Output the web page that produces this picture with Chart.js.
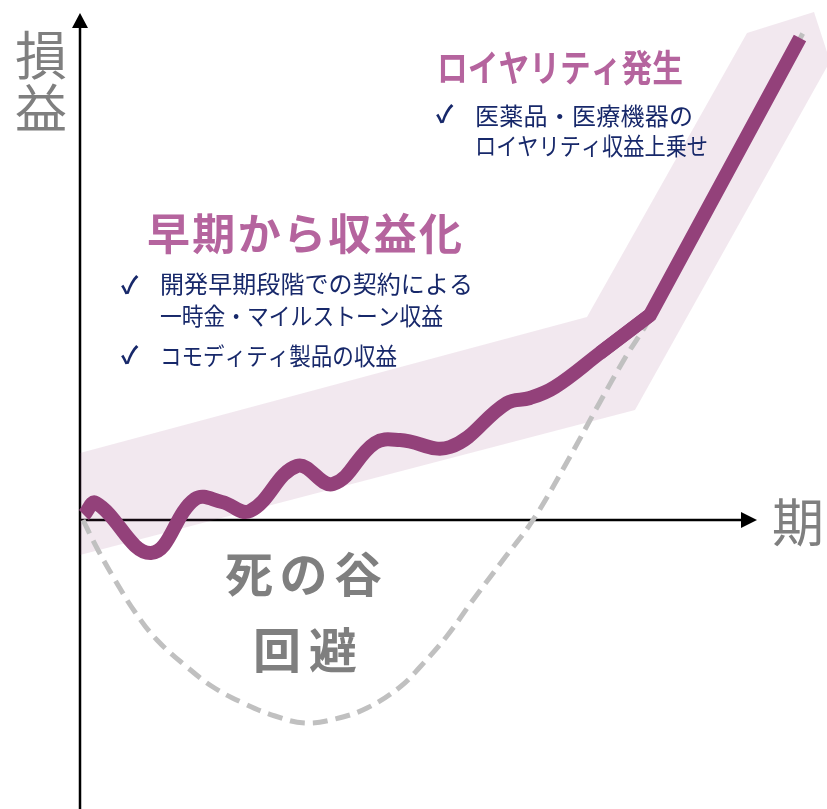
<!DOCTYPE html>
<html lang="ja">
<head>
<meta charset="utf-8">
<script src="https://cdn.jsdelivr.net/npm/chart.js@4.4.1/dist/chart.umd.min.js"></script>
<style>
  html, body { margin: 0; padding: 0; background: #ffffff; }
  canvas { display: block; }
</style>
</head>
<body>
<canvas id="c" width="827" height="809"></canvas>
<script>
// ---- Data (x = 期間, y = 損益; axis origin at 0,0) ----
// Purple profit curve (wavy early-revenue part)
const waveX = [0.4, 1.6, 7.1, 11.5, 14.2, 17.0, 21.7, 25.3, 29.5, 32.0, 37.0, 42.7, 45.0, 47.5, 52.0, 57.0];
const waveY = [0.5, 1.7, -3.3, 2.1, 1.8, 0.9, 5.4, 3.6, 7.7, 8.0, 7.3, 11.7, 12.2, 13.3, 16.7, 20.5];
// Purple profit curve (royalty rise part)
const riseX = [52.0, 57.0, 72.0];
const riseY = [16.7, 20.5, 48.2];
// Grey dashed "death valley" curve
const valleyX = [0.3, 1.8, 3.5, 5.5, 7.7, 10.7, 13.3, 16.3, 19.5, 22.5, 25.5, 28.7, 32.0, 34.0, 36.7, 39.3, 42.3, 45.3, 48.7, 52.0, 54.5, 57.0, 72.3];
const valleyY = [0, -3.0, -6.0, -9.2, -12.0, -14.7, -16.7, -18.3, -19.6, -20.3, -19.9, -18.8, -16.7, -14.7, -11.6, -8.0, -4.0, 0, 5.8, 11.8, 16.2, 20.2, 48.7];
// Light band around the curve
const bandTopX = [0, 50.7, 66.7, 73.4, 74.8];
const bandTopY = [6.7, 20.3, 48.7, 50.8, 46.5];
const bandBottomX = [0, 55.5, 74.8];
const bandBottomY = [-3.5, 11.0, 45.5];

// Texts
const axisYLabel = ['損', '益'];
const axisXLabel = '期';
const royaltyTitle = 'ロイヤリティ発生';
const royaltyItems = ['医薬品・医療機器の', 'ロイヤリティ収益上乗せ'];
const earlyTitle = '早期から収益化';
const earlyItems = ['開発早期段階での契約による', '一時金・マイルストーン収益', 'コモディティ製品の収益'];
const valleyText = ['死の谷', '回避'];

const pts = (xs, ys) => xs.map((x, i) => ({ x, y: ys[i] }));

const PURPLE = '#93417a';
const PINK = '#b5649e';
const NAVY = '#17286a';
const GREY_TXT = '#7f7f7f';
const FONT = '"Noto Sans CJK JP", "Noto Sans", sans-serif';

function fitText(ctx, str, x, y, size, weight, color, width) {
  ctx.save();
  ctx.font = `${weight} ${size}px ${FONT}`;
  ctx.fillStyle = color;
  ctx.textBaseline = 'middle';
  ctx.textAlign = 'left';
  const w = ctx.measureText(str).width;
  if (w > width) {
    ctx.translate(x, y);
    ctx.scale(width / w, 1);
    ctx.fillText(str, 0, 0);
  } else {
    const n = [...str].length;
    if (n > 1) ctx.letterSpacing = ((width - w) / (n - 1)) + 'px';
    ctx.fillText(str, x, y);
  }
  ctx.restore();
}
function plainText(ctx, str, x, y, size, weight, color, align, font) {
  ctx.save();
  ctx.font = `${weight} ${size}px ${font || FONT}`;
  ctx.fillStyle = color;
  ctx.textBaseline = 'middle';
  ctx.textAlign = align || 'left';
  ctx.fillText(str, x, y);
  ctx.restore();
}
function check(ctx, x, y) {
  plainText(ctx, '✓', x, y, 24, 700, NAVY, 'left', '"Noto Sans CJK JP", "DejaVu Sans", sans-serif');
}

const axesPlugin = {
  id: 'axesArrows',
  beforeDatasetsDraw(chart) {
    const ctx = chart.ctx;
    const xs = chart.scales.x, ys = chart.scales.y;
    const ox = xs.getPixelForValue(0), oy = ys.getPixelForValue(0);
    const area = chart.chartArea;
    const yTip = 13, xTip = 757;
    ctx.save();
    ctx.strokeStyle = '#000';
    ctx.fillStyle = '#000';
    ctx.lineWidth = 2.5;
    ctx.beginPath();
    ctx.moveTo(ox, area.bottom);
    ctx.lineTo(ox, yTip + 14);
    ctx.moveTo(ox, oy);
    ctx.lineTo(xTip - 15, oy);
    ctx.stroke();
    ctx.beginPath();
    ctx.moveTo(ox, yTip);
    ctx.lineTo(ox - 8, yTip + 15);
    ctx.lineTo(ox + 8, yTip + 15);
    ctx.closePath();
    ctx.fill();
    ctx.beginPath();
    ctx.moveTo(xTip, oy);
    ctx.lineTo(xTip - 16, oy - 8);
    ctx.lineTo(xTip - 16, oy + 8);
    ctx.closePath();
    ctx.fill();
    ctx.restore();
  },
  afterDatasetsDraw(chart) {
    const ctx = chart.ctx;
    // axis labels
    plainText(ctx, axisYLabel[0], 41, 55, 52, 400, GREY_TXT, 'center');
    plainText(ctx, axisYLabel[1], 41, 108, 52, 400, GREY_TXT, 'center');
    plainText(ctx, axisXLabel, 772, 522, 52, 400, GREY_TXT, 'left');
    // royalty block
    fitText(ctx, royaltyTitle, 437, 68, 37, 700, PINK, 246);
    check(ctx, 436, 114);
    fitText(ctx, royaltyItems[0], 475, 116, 24, 400, NAVY, 218);
    fitText(ctx, royaltyItems[1], 475, 146, 24, 400, NAVY, 233);
    // early revenue block
    fitText(ctx, earlyTitle, 147, 234, 43, 700, PINK, 315);
    check(ctx, 121, 285);
    fitText(ctx, earlyItems[0], 160, 284, 24, 400, NAVY, 313);
    fitText(ctx, earlyItems[1], 160, 316, 24, 400, NAVY, 283);
    check(ctx, 121, 355);
    fitText(ctx, earlyItems[2], 160, 356, 24, 400, NAVY, 237);
    // valley text
    fitText(ctx, valleyText[0], 225, 574, 48, 700, GREY_TXT, 157);
    fitText(ctx, valleyText[1], 253, 650, 48, 700, GREY_TXT, 104);
  }
};

new Chart(document.getElementById('c'), {
  type: 'line',
  data: {
    datasets: [
      { data: pts(riseX, riseY), borderColor: PURPLE, borderWidth: 14, tension: 0,
        borderCapStyle: 'butt', borderJoinStyle: 'miter', pointRadius: 0, fill: false, order: 0 },
      { data: pts(waveX, waveY), borderColor: PURPLE, borderWidth: 14, tension: 0.4,
        borderCapStyle: 'butt', borderJoinStyle: 'round', pointRadius: 0, fill: false, order: 1 },
      { data: pts(valleyX, valleyY), borderColor: '#c0c0c0', borderWidth: 5, tension: 0.4,
        borderDash: [15, 8], borderCapStyle: 'butt', pointRadius: 0, fill: false, order: 2 },
      { data: pts(bandTopX, bandTopY), borderColor: 'transparent', borderWidth: 0, tension: 0,
        pointRadius: 0, fill: '+1', backgroundColor: 'rgba(147,64,121,0.12)', order: 3 },
      { data: pts(bandBottomX, bandBottomY), borderColor: 'transparent', borderWidth: 0, tension: 0,
        pointRadius: 0, fill: false, order: 4 }
    ]
  },
  options: {
    responsive: false,
    animation: false,
    devicePixelRatio: 1,
    layout: { padding: 0 },
    events: [],
    plugins: { legend: { display: false }, tooltip: { enabled: false } },
    scales: {
      x: { type: 'linear', min: -8, max: 74.7, display: false },
      y: { type: 'linear', min: -28.9, max: 52.0, display: false }
    }
  },
  plugins: [axesPlugin]
});
</script>
</body>
</html>
